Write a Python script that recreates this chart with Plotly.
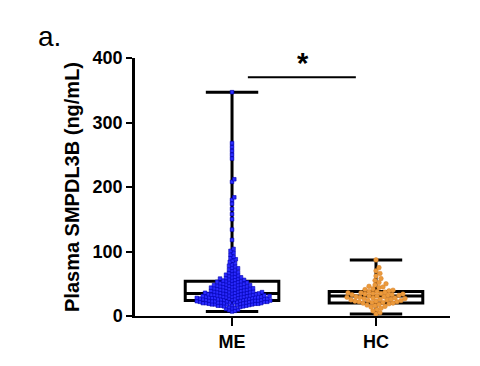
import plotly.graph_objects as go

categories = ["ME", "HC"]

me_values = [
    347, 268, 262, 256, 250, 244, 212, 208, 184, 180, 174, 166, 158, 150, 134, 118,
    104, 101, 98, 95, 92, 90, 88, 86, 84, 82, 80, 78, 77, 75, 74, 72, 71, 70, 68, 67,
    66, 65, 64, 63, 62, 61, 60, 60, 59, 58, 58, 57, 56, 56,
    55, 55, 54, 54, 53, 53, 52, 52, 51, 51, 50, 50, 50,
    49, 49, 48, 48, 48, 47, 47, 46, 46, 46, 45, 45, 45, 44, 44, 44,
    43, 43, 43, 42, 42, 42, 41, 41, 41, 40, 40, 40, 39, 39, 39, 38, 38, 38,
    37, 37, 37, 37, 36, 36, 36, 36, 35, 35, 35, 35, 34, 34, 34, 34, 33, 33, 33, 33,
    32, 32, 32, 32,
    31, 31, 31, 31, 31, 30, 30, 30, 30, 30, 29, 29, 29, 29, 29, 28, 28, 28, 28, 28,
    27, 27, 27, 27, 27, 26, 26, 26, 26, 26,
    25, 25, 25, 25, 25, 24, 24, 24, 24, 24, 23, 23, 23, 23, 23, 22, 22, 22, 22, 22,
    21, 21, 21, 21, 21, 20, 20, 20, 20, 20,
    19, 19, 19, 19, 18, 18, 18, 18, 17, 17, 17, 16, 16, 16, 15, 15, 14, 14,
    13, 12, 11, 10, 9, 8, 7,
]

hc_values = [
    87, 75, 70, 66, 62, 58, 55, 52, 50, 48, 46, 45, 44, 42, 41, 40, 39, 38, 38, 37,
    36, 36, 35, 35, 34, 34, 33, 33, 32, 32, 31, 31, 30, 30, 29, 29, 28, 28, 27, 27,
    26, 26, 25, 25, 24, 24, 23, 23, 22, 22, 21, 21, 20, 20, 19, 18, 17, 16, 15, 14,
    12, 10, 8, 5, 3,
]

# box statistics (min-to-max whiskers)
q1_vals = [24, 20]
median_vals = [35, 31]
q3_vals = [54, 38]
min_vals = [7, 3]
max_vals = [347, 87]

y_ticks = [0, 100, 200, 300, 400]
sig_y = 370

# ---- layout geometry used for beeswarm spacing ----
PX_PER_X = 144.0     # pixels per category unit
PX_PER_Y = 258.0 / 400.0


def swarm(values, diam):
    vals = sorted(values)
    placed = []
    offs = []
    step = diam / 4.0
    for v in vals:
        y = v * PX_PER_Y
        k = 0
        while True:
            cands = [0.0] if k == 0 else [k * step, -k * step]
            found = None
            for c in cands:
                ok = True
                for (px, py) in placed:
                    if abs(py - y) < diam and (px - c) ** 2 + (py - y) ** 2 < diam ** 2:
                        ok = False
                        break
                if ok:
                    found = c
                    break
            if found is not None:
                placed.append((found, y))
                offs.append(found / PX_PER_X)
                break
            k += 1
    return vals, offs


fig = go.Figure()

for i, name in enumerate(categories):
    fig.add_trace(go.Box(
        x=[i], q1=[q1_vals[i]], median=[median_vals[i]], q3=[q3_vals[i]],
        lowerfence=[min_vals[i]], upperfence=[max_vals[i]],
        width=0.65, whiskerwidth=0.56, fillcolor="white",
        line=dict(color="black", width=3), boxpoints=False,
        showlegend=False, hoverinfo="skip",
    ))

me_y, me_off = swarm(me_values, 3.0)
fig.add_trace(go.Scatter(
    x=[0 + o for o in me_off], y=me_y, mode="markers",
    marker=dict(symbol="square", size=3.6, color="#2b2bff",
                line=dict(color="#0000b0", width=0.6)),
    showlegend=False, cliponaxis=False,
))

hc_y, hc_off = swarm(hc_values, 4.0)
fig.add_trace(go.Scatter(
    x=[1 + o for o in hc_off], y=hc_y, mode="markers",
    marker=dict(symbol="circle", size=4.6, color="#eb9a3c",
                line=dict(color="#d9822b", width=0.5)),
    showlegend=False, cliponaxis=False,
))

# significance bar
fig.add_shape(type="line", x0=0.11, x1=0.86, y0=sig_y, y1=sig_y,
              xref="x", yref="y", line=dict(color="black", width=2))
fig.add_annotation(x=0.49, y=sig_y + 22, xref="x", yref="y", text="<b>*</b>",
                   showarrow=False, font=dict(size=29, color="black",
                                              family="Liberation Sans, Arial"),
                   yanchor="middle")
fig.add_annotation(x=-0.315, y=1.085, xref="paper", yref="paper", text="a.",
                   showarrow=False, xanchor="left", yanchor="middle",
                   font=dict(size=28, color="black", family="Liberation Sans, Arial"))

fig.update_layout(
    width=480, height=366,
    margin=dict(l=127, r=38, t=50, b=58),
    paper_bgcolor="white", plot_bgcolor="white",
    boxmode="overlay",
    font=dict(family="Liberation Sans, Arial", color="black"),
)
fig.update_xaxes(
    range=[-0.674, 1.514], tickvals=[0, 1], ticktext=categories,
    showline=True, linecolor="black", linewidth=2,
    ticks="outside", ticklen=8, tickwidth=2, tickcolor="black",
    showgrid=False, zeroline=False, automargin=False,
    tickfont=dict(size=18, weight="bold"),
)
fig.update_yaxes(
    range=[0, 400], tickvals=y_ticks,
    showline=True, linecolor="black", linewidth=2.5,
    ticks="outside", ticklen=6, tickwidth=2, tickcolor="black",
    showgrid=False, zeroline=False, automargin=False,
    tickfont=dict(size=18, weight="bold"),
    title=dict(text="Plasma SMPDL3B (ng/mL)", font=dict(size=20, weight="bold"),
               standoff=8),
)

fig.write_html("out.html")
